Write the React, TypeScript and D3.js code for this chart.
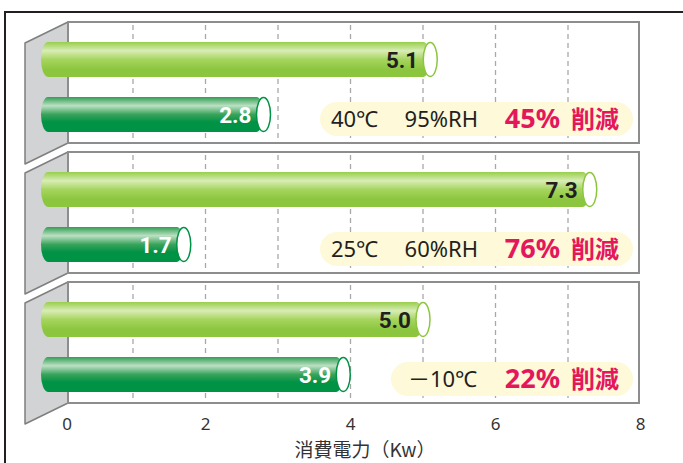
import React from 'react';
import * as d3 from 'd3';

// values
const conditions = ['40℃', '25℃', '－10℃'];
const humidity = ['95%RH', '60%RH', ''];
const beforeValues = [5.1, 7.3, 5.0];
const afterValues = [2.8, 1.7, 3.9];
const reductions = ['45%', '76%', '22%'];
const xTicks = [0, 2, 4, 6, 8];
const gridValues = [1, 2, 3, 4, 5, 6, 7];
const axisTitle = '消費電力（Kw）';
const reductionWord = '削減';

const W = 683;
const H = 463;
const panelLeft = 68;
const panelRight = 639;
const panelTops = [22, 152, 282];
const panelH = 121;
const sideDx = 43;
const sideDy = 21;
const barLeft = 41;
const barH = 35;

const x = d3.scaleLinear().domain([0, 8]).range([60.5, 640.5]);

const sans = '"Noto Sans", "Noto Sans CJK JP", sans-serif';
const cjk = '"Noto Sans CJK JP", "Noto Sans", sans-serif';

function Bar({ y, value, kind }: { y: number; value: number; kind: 'light' | 'dark' }) {
  const xe = x(value);
  const edge = kind === 'light' ? '#8cc63f' : '#009245';
  return (
    <g>
      <rect
        x={barLeft}
        y={y}
        width={xe - barLeft}
        height={barH}
        rx={7}
        ry={barH / 2}
        fill={`url(#grad-${kind})`}
      />
      <ellipse cx={xe} cy={y + barH / 2} rx={7} ry={barH / 2 - 0.5} fill="#fff" stroke={edge} strokeWidth={1.5} />
      <text
        x={xe - 12}
        y={y + barH / 2 + 8}
        textAnchor="end"
        fontFamily='Roboto, "Noto Sans", sans-serif'
        fontWeight={700}
        fontSize={22.5}
        fill={kind === 'light' ? '#231f20' : '#fff'}
      >
        {value.toFixed(1)}
      </text>
    </g>
  );
}

export default function App() {
  return (
    <svg width={W} height={H} style={{ position: 'absolute', left: 0, top: 0, background: '#fff' }}>
      <defs>
        <linearGradient id="grad-light" x1="0" y1="0" x2="0" y2="1">
          <stop offset="0" stopColor="#98ce4c" />
          <stop offset="0.25" stopColor="#d8edb6" />
          <stop offset="0.5" stopColor="#a6d55e" />
          <stop offset="0.78" stopColor="#8cc63f" />
          <stop offset="1" stopColor="#8cc63f" />
        </linearGradient>
        <linearGradient id="grad-dark" x1="0" y1="0" x2="0" y2="1">
          <stop offset="0" stopColor="#2f9e52" />
          <stop offset="0.25" stopColor="#bde0c4" />
          <stop offset="0.5" stopColor="#38a35a" />
          <stop offset="0.72" stopColor="#009245" />
          <stop offset="1" stopColor="#009245" />
        </linearGradient>
      </defs>

      {/* outer frame */}
      <path d={`M5,${H} V12 H${W}`} fill="none" stroke="#231f20" strokeWidth={2} />

      {panelTops.map((top, i) => {
        const bottom = top + panelH;
        const withHum = humidity[i] !== '';
        const pillLeft = withHum ? 320 : 391;
        const pillCy = top + 97;
        return (
          <g key={i}>
            {/* side face */}
            <path
              d={`M${panelLeft},${top} L${panelLeft - sideDx},${top + sideDy} L${panelLeft - sideDx},${bottom + sideDy} L${panelLeft},${bottom} Z`}
              fill="#d1d3d4"
              stroke="#7f7f7f"
              strokeWidth={1.5}
              strokeLinejoin="round"
            />
            <rect x={panelLeft} y={top} width={panelRight - panelLeft} height={panelH} fill="#fff" stroke="#8d8d8d" strokeWidth={2} />
            {gridValues.map((g) => (
              <line
                key={g}
                x1={x(g)}
                x2={x(g)}
                y1={top + 3}
                y2={bottom - 2}
                stroke="#a8a8a8"
                strokeWidth={1.3}
                strokeDasharray="5,4"
              />
            ))}
            <Bar y={top + 20} value={beforeValues[i]} kind="light" />
            <Bar y={top + 75} value={afterValues[i]} kind="dark" />
            <rect x={pillLeft} y={pillCy - 17} width={633 - pillLeft} height={34} rx={17} fill="#fdf9d9" />
            {withHum ? (
              <>
                <text x={378} y={pillCy + 8} textAnchor="end" fontFamily={sans} fontSize={22} fill="#231f20">
                  {conditions[i]}
                </text>
                <text x={478} y={pillCy + 8} textAnchor="end" fontFamily={sans} fontSize={22} fill="#231f20">
                  {humidity[i]}
                </text>
              </>
            ) : (
              <text x={477} y={pillCy + 8} textAnchor="end" fontFamily={sans} fontSize={22} fill="#231f20">
                {conditions[i]}
              </text>
            )}
            <text x={619} y={pillCy + 9} textAnchor="end" fill="#e5175c" fontWeight={700}>
              <tspan fontFamily={sans} fontSize={27}>{reductions[i]}</tspan>
              <tspan dx={11} fontFamily={cjk} fontSize={24}>{reductionWord}</tspan>
            </text>
          </g>
        );
      })}

      {xTicks.map((t) => (
        <text
          key={t}
          x={Math.max(x(t), panelLeft - 1)}
          y={430}
          textAnchor="middle"
          fontFamily={sans}
          fontSize={17}
          fill="#333"
        >
          {t}
        </text>
      ))}
      <text x={365} y={457} textAnchor="middle" fontFamily={cjk} fontSize={19} fill="#333">
        {axisTitle}
      </text>
    </svg>
  );
}
